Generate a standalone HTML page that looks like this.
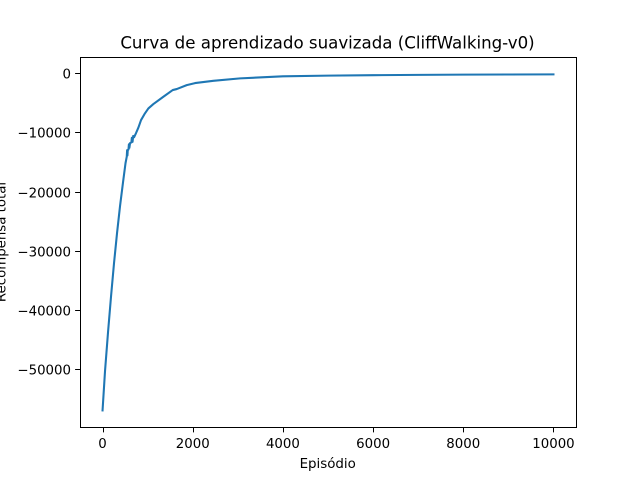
<!DOCTYPE html>
<html lang="pt">
<head>
<meta charset="utf-8">
<title>Curva de aprendizado suavizada</title>
<style>
html,body{margin:0;padding:0;background:#fff;width:640px;height:480px;overflow:hidden}
svg{display:block}
text{font-family:"DejaVu Sans",sans-serif;fill:#000}
</style>
</head>
<body>
<svg id="chart" xmlns="http://www.w3.org/2000/svg" width="640" height="480" viewBox="0 0 640 480">
<rect x="0" y="0" width="640" height="480" fill="#fff"/>
<text x="327.5" y="48.5" font-size="16.65" text-anchor="middle">Curva de aprendizado suavizada (CliffWalking-v0)</text>
<text x="327.7" y="468" font-size="13.4" text-anchor="middle">Episódio</text>
<text x="5.5" y="242" font-size="13.33" text-anchor="middle" transform="rotate(-90 5.5 242)">Recompensa total</text>
<g id="ticks"></g>
<polyline id="series" fill="none" stroke="#1f77b4" stroke-width="2.08" stroke-linejoin="round" stroke-linecap="square"></polyline>
<rect x="80.5" y="57.5" width="496" height="370" fill="none" stroke="#000" stroke-width="1"/>
</svg>
<script>
const episodes = [0,55,122,189,255,322,388,455,510,537,545,552,559,575,585,595,610,640,650,665,680,700,743,794,854,930,1016,1127,1349,1556,1645,1867,2051,2457,3050,4000,5000,6000,7000,8000,9000,10000];
const rewards = [-57000,-50330,-43740,-37650,-32070,-26990,-22440,-18380,-15170,-14100,-13000,-13900,-13000,-12900,-12000,-12600,-11800,-11700,-10900,-11600,-10600,-10800,-10100,-9200,-7910,-6900,-5940,-5210,-3970,-2840,-2670,-2000,-1660,-1270,-860,-520,-400,-320,-270,-230,-210,-190];
const xTicks = [0,2000,4000,6000,8000,10000];
const yTicks = [0,-10000,-20000,-30000,-40000,-50000];
const xDomain = [-500,10500];
const yDomain = [-59840,2650];
const plot = {left:80,right:576,top:57.6,bottom:427.2};
function xScale(v){return plot.left+(v-xDomain[0])/(xDomain[1]-xDomain[0])*(plot.right-plot.left);}
function yScale(v){return plot.bottom-(v-yDomain[0])/(yDomain[1]-yDomain[0])*(plot.bottom-plot.top);}
const NS='http://www.w3.org/2000/svg';
const line=document.getElementById('series');
line.setAttribute('points',episodes.map((e,i)=>xScale(e).toFixed(2)+','+yScale(rewards[i]).toFixed(2)).join(' '));
const g=document.getElementById('ticks');
function fmt(v){return v<0?'\u2212'+Math.abs(v):String(v);}
xTicks.forEach(v=>{
  const px=Math.round(xScale(v))+0.5;
  const t=document.createElementNS(NS,'line');
  
  
  t.setAttribute('x1',px);t.setAttribute('x2',px);t.setAttribute('y1',427.5);t.setAttribute('y2',432.4);
  t.setAttribute('stroke','#000');t.setAttribute('stroke-width','1');
  g.appendChild(t);
  const l=document.createElementNS(NS,'text');
  
  
  l.setAttribute('x',xScale(v));l.setAttribute('y',448);
  l.setAttribute('font-size','13.33');l.setAttribute('text-anchor','middle');
  l.textContent=fmt(v);
  g.appendChild(l);
});
yTicks.forEach(v=>{
  const py=Math.round(yScale(v))+0.5;
  const t=document.createElementNS(NS,'line');
  
  
  t.setAttribute('x1',75.1);t.setAttribute('x2',80);t.setAttribute('y1',py);t.setAttribute('y2',py);
  t.setAttribute('stroke','#000');t.setAttribute('stroke-width','1');
  g.appendChild(t);
  const l=document.createElementNS(NS,'text');
  
  
  l.setAttribute('x',71);l.setAttribute('y',py+5);
  l.setAttribute('font-size','13.33');l.setAttribute('text-anchor','end');
  l.textContent=fmt(v);
  g.appendChild(l);
});
</script>
</body>
</html>
